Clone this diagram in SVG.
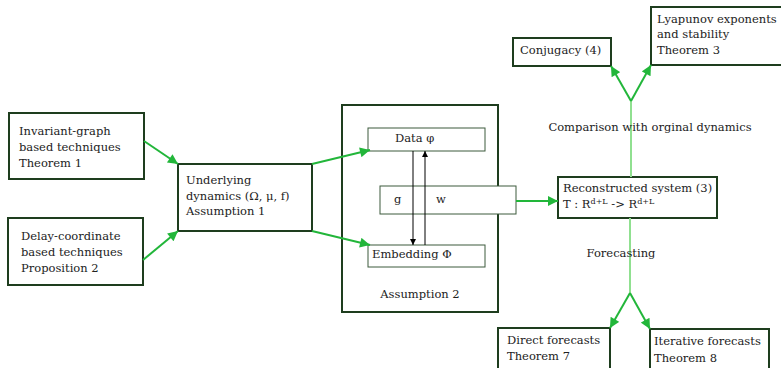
<svg xmlns="http://www.w3.org/2000/svg" width="781" height="368" viewBox="0 0 781 368">
<style>
text{font-family:"DejaVu Serif",serif;font-size:11.5px;fill:#222}
.box{fill:#fff;stroke:#1e3d1e;stroke-width:2}
.inner{fill:#fff;stroke:#3d5a3d;stroke-width:1}
.ga{stroke:#22b63a;stroke-width:2;fill:none;marker-end:url(#ag)}
.lg{stroke:#90e090;stroke-width:2;fill:none}
.ba{stroke:#000;stroke-width:1;fill:none}
</style>
<defs>
<marker id="ag" viewBox="0 0 10 10" refX="10" refY="5" markerWidth="12" markerHeight="10" markerUnits="userSpaceOnUse" orient="auto"><path d="M0,0L10,5L0,10z" fill="#22b63a"/></marker>
<marker id="ab" viewBox="0 0 10 10" refX="10" refY="5" markerWidth="7" markerHeight="6" markerUnits="userSpaceOnUse" orient="auto"><path d="M0,0L10,5L0,10z" fill="#000"/></marker>
</defs>
<g id="assumption2"><rect class="box" x="342" y="105" width="156" height="207"/><text x="420" y="298" text-anchor="middle">Assumption 2</text></g>
<g id="invariant"><rect class="box" x="9" y="113" width="135" height="66"/><text x="19" y="135">Invariant-graph</text><text x="19" y="151">based techniques</text><text x="19" y="167">Theorem 1</text></g>
<g id="delay"><rect class="box" x="8" y="218" width="135" height="67"/><text x="21" y="240">Delay-coordinate</text><text x="21" y="256">based techniques</text><text x="21" y="272">Proposition 2</text></g>
<g id="underlying"><rect class="box" x="178" y="164" width="134" height="67"/><text x="186" y="184">Underlying</text><text x="186" y="200">dynamics (Ω, μ, f)</text><text x="186" y="215">Assumption 1</text></g>
<g id="data"><rect class="inner" x="368" y="128" width="117" height="23"/><text x="395" y="142">Data φ</text></g>
<g id="gw"><rect class="inner" x="380" y="186" width="136" height="28"/><text x="394" y="203">g</text><text x="436" y="203">w</text></g>
<g id="embedding"><rect class="inner" x="368" y="245" width="117" height="22"/><text x="372" y="258">Embedding Φ</text></g>
<g id="reconstructed"><rect class="box" x="558" y="177" width="159" height="41"/><text x="563" y="192">Reconstructed system (3)</text><text x="563" y="208">T : R<tspan font-size="8" dy="-4">d+L</tspan><tspan dy="4"> -&gt; R</tspan><tspan font-size="8" dy="-4">d+L</tspan></text></g>
<g id="conjugacy"><rect class="box" x="513" y="38" width="98" height="28"/><text x="520" y="54">Conjugacy (4)</text></g>
<g id="lyapunov"><rect class="box" x="651" y="7" width="140" height="58"/><text x="657" y="23">Lyapunov exponents</text><text x="657" y="38">and stability</text><text x="657" y="54">Theorem 3</text></g>
<g id="direct"><rect class="box" x="498" y="328" width="112" height="50"/><text x="507" y="344">Direct forecasts</text><text x="507" y="360">Theorem 7</text></g>
<g id="iterative"><rect class="box" x="650" y="329" width="119" height="50"/><text x="654" y="345">Iterative forecasts</text><text x="654" y="362">Theorem 8</text></g>
<g id="connectors">
<path class="ga" d="M144,141L178,164"/>
<path class="ga" d="M143,260L178,231"/>
<path class="ga" d="M312,164L370,150"/>
<path class="ga" d="M312,231L370,245"/>
<path class="ga" d="M516,201L558,201"/>
<path class="ba" d="M413,151L413,245" marker-end="url(#ab)"/>
<path class="ba" d="M425,245L425,151" marker-end="url(#ab)"/>
<path class="lg" d="M631,177L631,101"/>
<path class="ga" d="M631,101L611,66"/>
<path class="ga" d="M631,101L651,65"/>
<path class="lg" d="M630,218L630,293"/>
<path class="ga" d="M630,293L610,328"/>
<path class="ga" d="M630,293L650,329"/>
</g>
<text x="650" y="131" text-anchor="middle">Comparison with orginal dynamics</text>
<text x="621" y="257" text-anchor="middle">Forecasting</text>
</svg>
